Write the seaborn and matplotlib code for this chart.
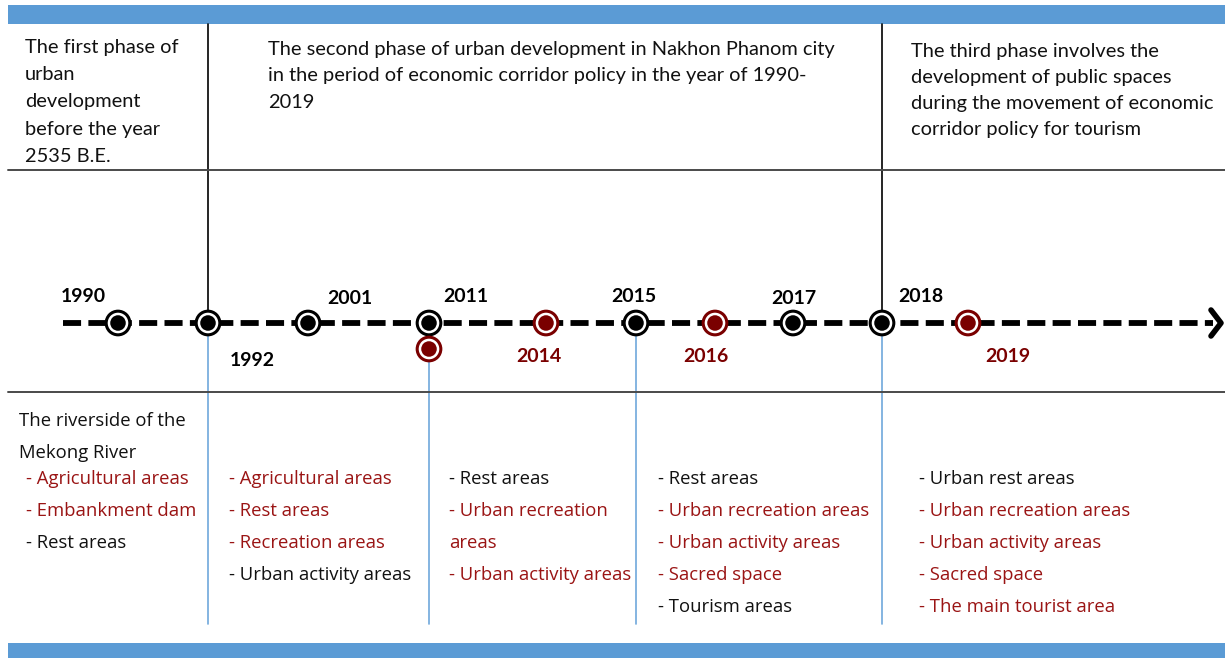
import matplotlib
matplotlib.use("Agg")
import matplotlib.pyplot as plt
import seaborn as sns
import pandas as pd

# ---------------- data ----------------
event_years = [1990, 1992, 2001, 2011, 2011, 2014, 2015, 2016, 2017, 2018, 2019]
event_kind = ["past", "past", "past", "past", "new", "new", "past", "new", "past", "past", "new"]

label_years = ["1990", "1992", "2001", "2011", "2014", "2015", "2016", "2017", "2018", "2019"]
label_kind = ["past", "past", "past", "past", "new", "past", "new", "past", "past", "new"]

phase_titles = [
    ["The first phase of", "urban", "development", "before the year", "2535 B.E."],
    ["The second phase of urban development in Nakhon Phanom city",
     "in the period of economic corridor policy in the year of 1990-",
     "2019"],
    ["The third phase involves the", "development of public spaces",
     "during the movement of economic", "corridor policy for tourism"],
]

col1_head = ["The riverside of the", "Mekong River"]
col_items = [
    ["- Agricultural areas", "- Embankment dam", "- Rest areas"],
    ["- Agricultural areas", "- Rest areas", "- Recreation areas", "- Urban activity areas"],
    ["- Rest areas", "- Urban recreation", "areas", "- Urban activity areas"],
    ["- Rest areas", "- Urban recreation areas", "- Urban activity areas", "- Sacred space", "- Tourism areas"],
    ["- Urban rest areas", "- Urban recreation areas", "- Urban activity areas", "- Sacred space", "- The main tourist area"],
]
col_kinds = [
    ["new", "new", "past"],
    ["new", "new", "new", "past"],
    ["past", "new", "new", "new"],
    ["past", "new", "new", "new", "past"],
    ["past", "new", "new", "new", "new"],
]

# ---------------- layout ----------------
event_x = [118, 208, 308, 429, 429, 546, 636, 715, 793, 882, 968]
event_row = [0, 0, 0, 0, 1, 0, 0, 0, 0, 0, 0]
label_xy = [(83, 297), (252, 361), (350, 299), (466, 297), (539, 357),
            (634, 297), (706, 357), (794, 299), (921, 296), (1008, 357)]
LINE_Y = 323
ROW_DY = 26

MARK = {"past": "#000000", "new": "#7A0000"}
TEXT = {"past": "#111111", "new": "#9A1414"}
BLUE = "#5B9BD5"

sns.set_theme(style="white")
plt.rcParams["font.family"] = ["Lato", "DejaVu Sans"]

fig = plt.figure(figsize=(12.25, 6.58), dpi=100)
ax = fig.add_axes([0, 0, 1, 1])

# bands
ax.fill_between([8, 1225], 5, 24, color=BLUE, lw=0)
ax.fill_between([8, 1225], 643, 658, color=BLUE, lw=0)

# horizontal separators
ax.plot([8, 1225], [170, 170], color="#4a4a4a", lw=1.4)
ax.plot([8, 1225], [392, 392], color="#4a4a4a", lw=1.4)

# phase dividers (black, top)
for x in (208, 882):
    ax.plot([x, x], [24, LINE_Y], color="black", lw=1.2, zorder=1)
# blue dividers (bottom)
for x, y0 in ((208, 336), (429, 362), (636, 336), (882, 336)):
    ax.plot([x, x], [y0, 624], color="#6FA8DC", lw=1.2, zorder=1)

# dashed timeline + arrow
ax.plot([63, 1213], [LINE_Y, LINE_Y], color="black", lw=4.2,
        dashes=(3.1, 1.25), solid_capstyle="butt", zorder=2)
ax.plot([1211, 1221, 1211], [310, LINE_Y, 336], color="black", lw=4,
        solid_capstyle="round", solid_joinstyle="round", zorder=2)

# markers
df = pd.DataFrame({
    "year": event_years,
    "kind": event_kind,
    "x": event_x,
    "y": [LINE_Y + r * ROW_DY for r in event_row],
})
for size, col_fn in ((370, lambda k: MARK[k]), (220, lambda k: "white"), (125, lambda k: MARK[k])):
    sns.scatterplot(data=df, x="x", y="y", hue="kind",
                    palette={k: col_fn(k) for k in MARK}, s=size,
                    linewidth=0, legend=False, ax=ax, zorder=3)
ax.set_xlim(0, 1225)
ax.set_ylim(658, 0)
ax.axis("off")

# year labels
for lab, kind, (x, y) in zip(label_years, label_kind, label_xy):
    ax.text(x, y, lab, ha="center", va="center", fontsize=14, fontweight="bold",
            color="#7A0000" if kind == "new" else "black")

# phase titles
title_pos = [(25, 48, 27), (268, 49, 27), (911, 52, 26)]
for lines, (x, y0, dy) in zip(phase_titles, title_pos):
    for i, t in enumerate(lines):
        ax.text(x, y0 + i * dy, t, ha="left", va="center", fontsize=14.4, color="#111111")

# bottom columns
bfont = ["Open Sans", "DejaVu Sans"]
BFS = 13.3
ax.text(19, 421, col1_head[0], ha="left", va="center", fontsize=BFS, color="#111111", family=bfont)
ax.text(19, 453, col1_head[1], ha="left", va="center", fontsize=BFS, color="#111111", family=bfont)
col_x = [26, 229, 449, 658, 919]
for items, kinds, x in zip(col_items, col_kinds, col_x):
    for i, (t, k) in enumerate(zip(items, kinds)):
        ax.text(x, 479 + i * 32, t, ha="left", va="center", fontsize=BFS,
                color=TEXT[k], family=bfont)

fig.savefig("out.png", dpi=100)
